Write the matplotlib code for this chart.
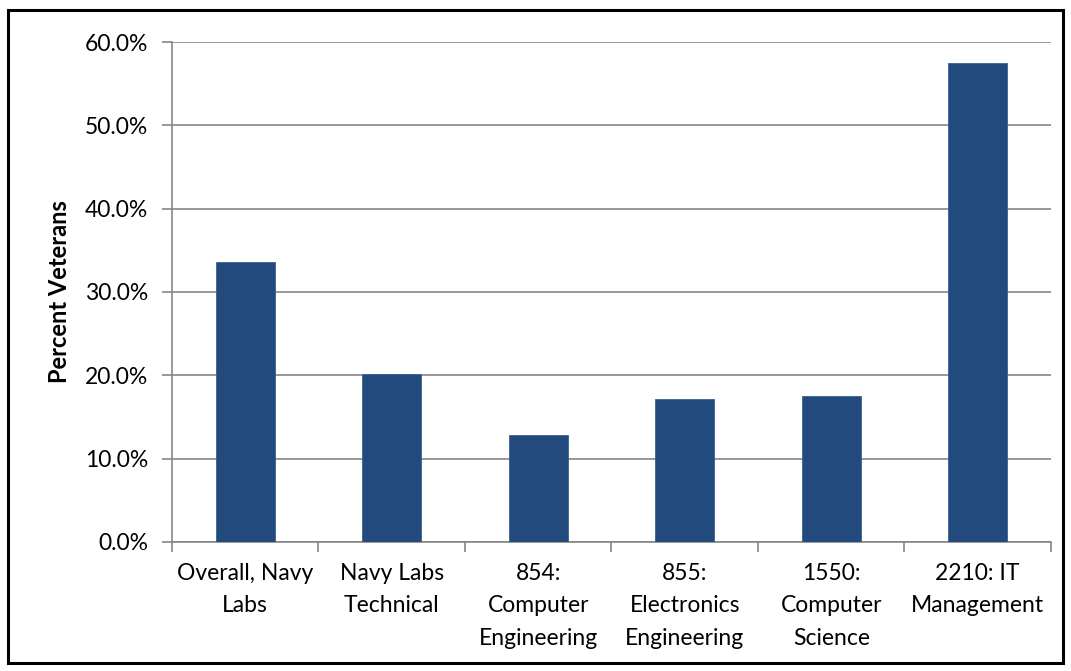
import matplotlib.pyplot as plt
from matplotlib.patches import Rectangle
from matplotlib.ticker import FuncFormatter
import numpy as np

categories = ["Overall, Navy\nLabs", "Navy Labs\nTechnical", "854:\nComputer\nEngineering",
              "855:\nElectronics\nEngineering", "1550:\nComputer\nScience", "2210: IT\nManagement"]
values = [33.6, 20.2, 12.8, 17.2, 17.5, 57.5]

plt.rcParams['font.family'] = ['Lato', 'DejaVu Sans']

fig = plt.figure(figsize=(10.71, 6.71), dpi=100)
ax = fig.add_axes([0.1606, 0.1923, 0.8207, 0.7451])

x = np.arange(len(categories))
ax.bar(x, values, width=0.4, color='#224a7c', edgecolor='#3a5f8f', linewidth=0.6, zorder=3)

ax.set_xlim(-0.5, len(categories) - 0.5)
ax.set_ylim(0, 60)
ax.set_yticks(np.arange(0, 61, 10))
ax.yaxis.set_major_formatter(FuncFormatter(lambda v, p: "%.1f%%" % v))
ax.grid(axis='y', color='#868686', linewidth=1.2, zorder=0)

# category labels between boundary ticks
ax.set_xticks(np.arange(-0.5, len(categories), 1.0))
ax.set_xticklabels([])
ax.set_xticks(x, minor=True)
ax.set_xticklabels(categories, minor=True, fontsize=16.5, linespacing=1.68)
ax.tick_params(axis='x', which='minor', length=0, pad=15)
ax.tick_params(axis='x', which='major', length=7, width=1.2, color='#868686', direction='out')
ax.tick_params(axis='y', length=7, width=1.2, color='#868686', labelsize=16.5, pad=10)

for s in ['top', 'right']:
    ax.spines[s].set_visible(False)
for s in ['left', 'bottom']:
    ax.spines[s].set_color('#868686')
    ax.spines[s].set_linewidth(1.2)

ax.set_ylabel("Percent Veterans", fontsize=17, fontweight='bold', labelpad=10)

fig.patches.append(Rectangle((8 / 1071, 8 / 671), 1055 / 1071, 653 / 671, transform=fig.transFigure,
                             fill=False, edgecolor='black', linewidth=2.2))

fig.savefig("out.png", dpi=100)
